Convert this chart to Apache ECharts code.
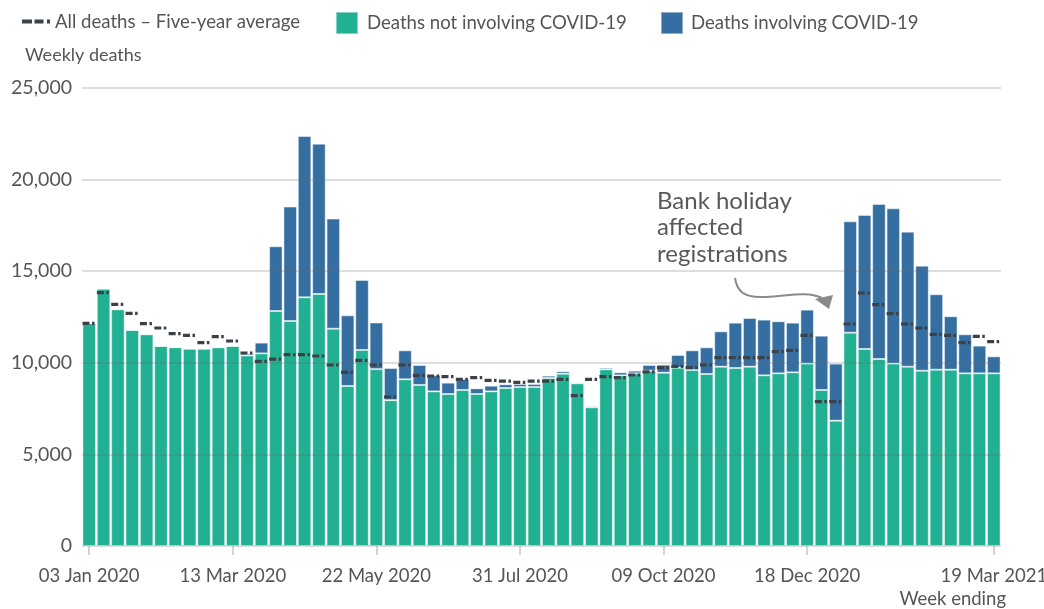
<!DOCTYPE html>
<html>
<head>
<meta charset="utf-8">
<script src="https://cdn.jsdelivr.net/npm/echarts@6/dist/echarts.min.js"></script>
<style>
html,body{margin:0;padding:0;background:#fff;}
#chart{width:1044px;height:609px;}
</style>
</head>
<body>
<div id="chart"></div>
<script>
var weeks = [
'03 Jan 2020','10 Jan 2020','17 Jan 2020','24 Jan 2020','31 Jan 2020',
'07 Feb 2020','14 Feb 2020','21 Feb 2020','28 Feb 2020',
'06 Mar 2020','13 Mar 2020','20 Mar 2020','27 Mar 2020',
'03 Apr 2020','10 Apr 2020','17 Apr 2020','24 Apr 2020',
'01 May 2020','08 May 2020','15 May 2020','22 May 2020','29 May 2020',
'05 Jun 2020','12 Jun 2020','19 Jun 2020','26 Jun 2020',
'03 Jul 2020','10 Jul 2020','17 Jul 2020','24 Jul 2020','31 Jul 2020',
'07 Aug 2020','14 Aug 2020','21 Aug 2020','28 Aug 2020',
'04 Sep 2020','11 Sep 2020','18 Sep 2020','25 Sep 2020',
'02 Oct 2020','09 Oct 2020','16 Oct 2020','23 Oct 2020','30 Oct 2020',
'06 Nov 2020','13 Nov 2020','20 Nov 2020','27 Nov 2020',
'04 Dec 2020','11 Dec 2020','18 Dec 2020','25 Dec 2020',
'01 Jan 2021','08 Jan 2021','15 Jan 2021','22 Jan 2021','29 Jan 2021',
'05 Feb 2021','12 Feb 2021','19 Feb 2021','26 Feb 2021',
'05 Mar 2021','12 Mar 2021','19 Mar 2021'
];

var tickLabels = ['03 Jan 2020','13 Mar 2020','22 May 2020','31 Jul 2020','09 Oct 2020','18 Dec 2020','19 Mar 2021'];

var notCovid = [
12150,14046,12918,11790,11555,10917,10844,10771,10771,10844,
10917,10400,10515,12828,12282,13574,13755,11863,8734,10700,
9655,7960,9100,8790,8440,8297,8515,8297,8440,8624,
8680,8680,9170,9405,8880,7570,9645,9315,9425,9570,
9460,9735,9607,9390,9790,9716,9790,9315,9425,9480,
9955,8515,6840,11645,10754,10207,9955,9790,9570,9625,
9625,9425,9425,9425
];

var covid = [
0,0,0,0,0,0,0,0,0,0,
0,100,585,3532,6243,8806,8205,6007,3856,3820,
2545,1756,1580,1090,875,618,600,308,310,201,
163,163,127,130,60,72,90,165,145,310,
440,690,1073,1454,1927,2474,2655,3040,2840,2710,
2945,2965,3115,6075,7316,8463,8475,7370,5730,4115,
2915,2130,1510,928
];

var fiveYearAvg = [
12150,13830,13190,12700,12135,11900,11590,11500,11100,11430,
11190,10535,10080,10205,10445,10445,10370,9880,9480,10135,
9880,8133,9880,9315,9280,9240,9100,9190,9040,9005,
8935,9005,9005,9100,8205,9100,9240,9190,9335,9500,
9735,9810,9735,9880,10280,10280,10280,10280,10610,10680,
11500,7880,7880,12118,13810,13175,12680,12118,11900,11555,
11500,11100,11445,11155
];

var yTicks = [0, 5000, 10000, 15000, 20000, 25000];

var FONT = 'Lato';
var TXT = '#555555';
var GREEN = '#22b092';
var BLUE = '#356ea0';
var DASH = '#3b4148';

var chart = echarts.init(document.getElementById('chart'), null, {renderer: 'canvas'});

var avgData = fiveYearAvg.map(function (v, i) { return [i, v]; });

var option = {
  animation: false,
  backgroundColor: '#ffffff',
  textStyle: {fontFamily: FONT},
  grid: {left: 82, right: 43, top: 88, bottom: 63, containLabel: false, outerBoundsMode: 'none'},
  legend: [
    {
      left: 22, top: 12, padding: 0,
      itemWidth: 28, itemHeight: 4,
      data: [{name: 'All deaths \u2013 Five-year average', icon: 'path://M0,0H10V4H0Z M12.5,0H21.5V4H12.5Z M25,0H28V4H25Z'}],
      textStyle: {fontFamily: FONT, fontSize: 18.6, color: TXT, padding: [0, 0, 0, 0]},
      selectedMode: false
    },
    {
      left: 335, top: 11, padding: 0,
      itemWidth: 22, itemHeight: 22,
      data: [{name: 'Deaths not involving COVID-19', icon: 'rect'}],
      textStyle: {fontFamily: FONT, fontSize: 18.6, color: TXT, padding: [0, 0, 0, 4]},
      selectedMode: false
    },
    {
      left: 660, top: 11, padding: 0,
      itemWidth: 22, itemHeight: 22,
      data: [{name: 'Deaths involving COVID-19', icon: 'rect'}],
      textStyle: {fontFamily: FONT, fontSize: 18.6, color: TXT, padding: [0, 0, 0, 3]},
      selectedMode: false
    }
  ],
  xAxis: {
    type: 'category',
    data: weeks,
    boundaryGap: true,
    axisLine: {show: false},
    axisTick: {
      show: true, alignWithLabel: true, length: 9,
      lineStyle: {color: '#c8c8c8', width: 1.5},
      interval: function (idx, val) { return tickLabels.indexOf(val) >= 0; }
    },
    axisLabel: {
      interval: function (idx, val) { return tickLabels.indexOf(val) >= 0; },
      fontFamily: FONT, fontSize: 18.5, color: TXT, margin: 21
    },
    splitLine: {show: false}
  },
  yAxis: {
    type: 'value',
    min: yTicks[0], max: yTicks[yTicks.length - 1], interval: 5000,
    z: 3,
    axisLine: {show: false},
    axisTick: {show: false},
    axisLabel: {
      fontFamily: FONT, fontSize: 19.5, color: TXT, margin: 10,
      formatter: function (v) { return v.toLocaleString('en-GB'); }
    },
    splitLine: {show: true, lineStyle: {color: 'rgba(110,110,110,0.3)', width: 1.5}}
  },
  series: [
    {
      name: 'Deaths not involving COVID-19',
      type: 'bar',
      stack: 'deaths',
      data: notCovid,
      barCategoryGap: '6%',
      itemStyle: {color: GREEN, borderColor: 'rgba(255,255,255,0.45)', borderWidth: 1},
      z: 2
    },
    {
      name: 'Deaths involving COVID-19',
      type: 'bar',
      stack: 'deaths',
      data: covid,
      barCategoryGap: '6%',
      itemStyle: {color: BLUE, borderColor: 'rgba(255,255,255,0.45)', borderWidth: 1},
      z: 2
    },
    {
      name: 'All deaths \u2013 Five-year average',
      type: 'custom',
      data: avgData,
      encode: {x: 0, y: 1},
      itemStyle: {color: DASH},
      z: 6,
      renderItem: function (params, api) {
        var p = api.coord([api.value(0), api.value(1)]);
        var w = api.size([1, 0])[0];
        return {
          type: 'line',
          shape: {x1: p[0] - w / 2 + 0.5, y1: p[1], x2: p[0] + w / 2, y2: p[1]},
          style: {stroke: DASH, lineWidth: 3.2, lineDash: [7, 2.5, 2.5, 2.5], fill: null}
        };
      }
    }
  ],
  graphic: [
    {
      type: 'text', left: 25, top: 46,
      style: {text: 'Weekly deaths', fontFamily: FONT, fontSize: 18, fill: TXT}
    },
    {
      type: 'text', right: 38, top: 590,
      style: {text: 'Week ending', fontFamily: FONT, fontSize: 18.5, fill: TXT}
    },
    {
      type: 'text', left: 657, top: 188,
      style: {text: 'Bank holiday\naffected\nregistrations', fontFamily: FONT, fontSize: 24, lineHeight: 26.5, fill: '#595959'}
    },
    {
      type: 'bezierCurve', z: 10,
      shape: {x1: 735, y1: 278, cpx1: 737, cpy1: 292, cpx2: 745, cpy2: 297, x2: 760, y2: 297},
      style: {stroke: '#8a8a8a', lineWidth: 2, fill: null}
    },
    {
      type: 'bezierCurve', z: 10,
      shape: {x1: 760, y1: 297, cpx1: 785, cpy1: 297, cpx2: 805, cpy2: 290, x2: 822, y2: 298},
      style: {stroke: '#8a8a8a', lineWidth: 2, fill: null}
    },
    {
      type: 'polygon', z: 10,
      shape: {points: [[815, 299], [833, 295], [829, 309]]},
      style: {fill: '#8a8a8a'}
    }
  ]
};

chart.setOption(option);
</script>
</body>
</html>
